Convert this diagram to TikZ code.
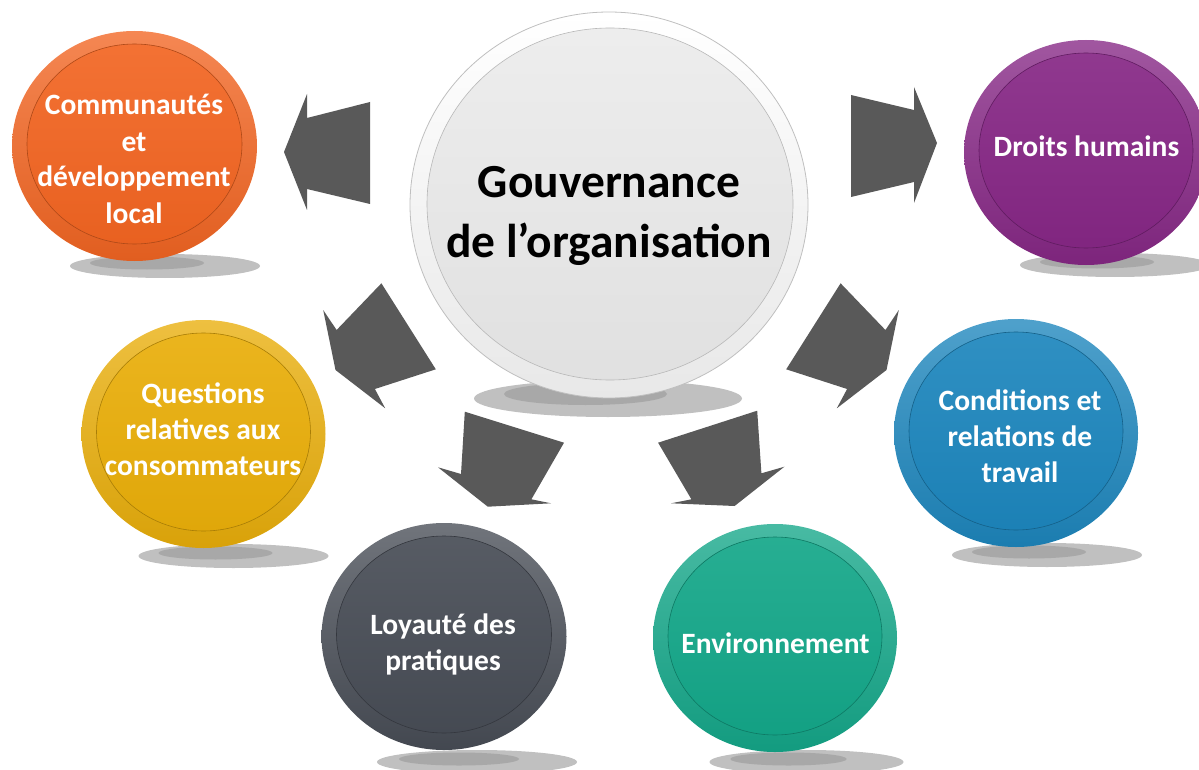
\documentclass[tikz,border=0pt]{standalone}
\usepackage{fontspec}
\setmainfont{Carlito}
\definecolor{corange}{RGB}{242,101,34}
\definecolor{cpurple}{RGB}{134,39,133}
\definecolor{cblue}{RGB}{29,134,189}
\definecolor{cyellow}{RGB}{233,174,10}
\definecolor{cgray}{RGB}{72,77,86}
\definecolor{cgreen}{RGB}{20,167,137}
\definecolor{arrowgray}{RGB}{89,89,89}
\definecolor{shadowlight}{RGB}{192,192,192}
\definecolor{shadowdark}{RGB}{168,168,168}
\newcommand\coindisc[9]{%
  \fill[shadowlight] (#6,#7) ellipse [x radius=#8, y radius=12];
  \fill[shadowdark] (#6-18,#7-3) ellipse [x radius=#8*0.6, y radius=6.5];
  \shade[top color=#5!78!white, middle color=#5, bottom color=#5!93!black] (#1,#2) ellipse [x radius=#3, y radius=#4];
  \shade[top color=#5!92!white, bottom color=#5!96!black, draw=#5!72!black, line width=0.6pt] (#1,#2-2) ellipse [x radius=#3-15, y radius=#4-15];
  \node[coinlabel] (#9) at (#1,#2) {};
}
\begin{document}
\begin{tikzpicture}[x=1pt,y=-1pt,
  blockarrow/.style={fill=arrowgray},
  coinlabel/.style={inner sep=0pt, minimum size=0pt},
  whitetext/.style={text=white, font=\fontsize{29.5}{36}\selectfont\bfseries, align=center, anchor=base, inner sep=0pt},
  blacktext/.style={text=black, font=\fontsize{47.5}{60}\selectfont\bfseries, align=center, anchor=base, inner sep=0pt}]
\useasboundingbox (0,0) rectangle (1199,770);

% centre shadow
\fill[shadowlight] (608,398.5) ellipse [x radius=134, y radius=18.5];
\fill[shadowdark] (585.5,394) ellipse [x radius=81.5, y radius=11];

% block arrows
\fill[blockarrow] (284,152) -- (307,94) -- (307,118) -- (370,102) -- (370,204) -- (307,189) -- (307,210) -- cycle;
\fill[blockarrow] (937,143) -- (914,87) -- (914,110) -- (851,95) -- (851,197) -- (914,182) -- (914,203) -- cycle;
\fill[blockarrow] (381.4,283.3) -- (435.8,369.3) -- (374.9,389) -- (385.2,408.3) -- (335.5,370) -- (323.2,310) -- (336.6,330) -- cycle;
\fill[blockarrow] (840.6,283.3) -- (786.2,369.3) -- (847.1,389) -- (836.8,408.3) -- (886.5,370) -- (898.8,310) -- (885.4,330) -- cycle;
\fill[blockarrow] (464.8,411.7) -- (564,442.7) -- (531.4,499.3) -- (551,503.3) -- (487.8,506.7) -- (438,467.3) -- (461,474) -- cycle;
\fill[blockarrow] (757.2,410.7) -- (658.1,442.7) -- (691.4,499.3) -- (671.1,503.3) -- (734.6,506) -- (784.4,466.7) -- (761.4,473.3) -- cycle;

% coins
\coindisc{134.5}{146}{122.5}{115}{corange}{165}{266}{95}{orange}
\coindisc{1086}{152.5}{122}{112.5}{cpurple}{1115}{265}{95}{purple}
\coindisc{1016}{433}{122}{114}{cblue}{1047}{555}{95}{blue}
\coindisc{203.5}{434}{122}{114}{cyellow}{233.5}{556}{95}{yellow}
\coindisc{444}{636.5}{122.5}{113.5}{cgray}{477}{762}{100}{gray}
\coindisc{775}{638}{122}{114}{cgreen}{806.5}{762}{97}{green}

% centre coin
\shade[top color=white, bottom color=black!9, draw=black!25, line width=0.8pt] (609,205) ellipse [x radius=199, y radius=193];
\shade[top color=black!7, bottom color=black!12, draw=black!28, line width=0.6pt] (610,204) ellipse [x radius=183, y radius=176];

% texts (anchor = baseline of last line)
\node[blacktext] (gov) at (609,257) {Gouvernance\\de l’organisation};
\node[whitetext] (tcom) at (134,223) {Communautés\\et\\développement\\local};
\node[whitetext] (tdh) at (1086.5,157) {Droits humains};
\node[whitetext] (tcond) at (1020,482) {Conditions et\\relations de\\travail};
\node[whitetext] (tquest) at (203,475) {Questions\\relatives aux\\consommateurs};
\node[whitetext] (tloy) at (443,670) {Loyauté des\\pratiques};
\node[whitetext] (tenv) at (775.5,653) {Environnement};
\end{tikzpicture}
\end{document}
